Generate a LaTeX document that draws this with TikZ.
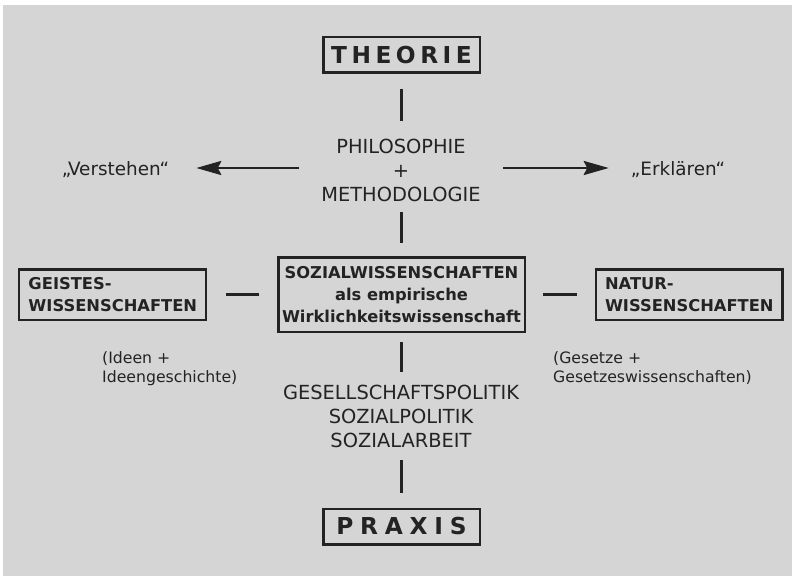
\documentclass[tikz,border=0pt]{standalone}
\usepackage{fontspec}
\setmainfont{DejaVu Sans}
\usetikzlibrary{arrows.meta}
\definecolor{bg}{HTML}{D5D5D5}
\definecolor{ink}{HTML}{232323}
\tikzset{
  box/.style={draw=ink, line width=2.5bp, inner sep=0pt, text=ink},
  titlebox/.style={box, minimum width=156.5bp, minimum height=35.5bp, font=\fontsize{23.3bp}{28bp}\selectfont\bfseries},
  sidebox/.style={box, minimum width=186.5bp, minimum height=50.5bp, text width=168bp, align=left, font=\fontsize{16.3bp}{22bp}\selectfont\bfseries},
  midtxt/.style={text=ink, inner sep=0pt, align=center, font=\fontsize{19.4bp}{24bp}\selectfont},
  quotetxt/.style={text=ink, inner sep=0pt, font=\fontsize{18.4bp}{22bp}\selectfont},
  notetxt/.style={text=ink, inner sep=0pt, align=left, font=\fontsize{15.7bp}{19bp}\selectfont},
  link/.style={draw=ink, line width=2.7bp},
  arr/.style={draw=ink, line width=2.8bp, -{Stealth[length=25bp, width=14bp, inset=3.5bp]}}
}
\begin{document}
\begin{tikzpicture}[x=1bp, y=-1bp]
\useasboundingbox (0,0) rectangle (792,576);
\fill[white] (0,0) rectangle (792,576);
\fill[bg] (3,5) rectangle (792,576);

\node[titlebox] (theorie) at (401.5,55) {T\kern4.5bp H\kern4.5bp E\kern4.5bp O\kern4.5bp R\kern4.5bp I\kern4.5bp E};
\node[midtxt] (phil) at (401,170) {PHILOSOPHIE\\+\\METHODOLOGIE};
\node[quotetxt, anchor=base] (verst) at (115.5,175.5) {„Verstehen“};
\node[quotetxt, anchor=base] (erkl) at (678,175.5) {„Erklären“};

\node[box, minimum width=246.5bp, minimum height=74.5bp, align=center, font=\fontsize{16.3bp}{22bp}\selectfont\bfseries] (soz) at (401.5,294.5) {SOZIALWISSENSCHAFTEN\\als empirische\\Wirklichkeitswissenschaft};
\node[sidebox] (geist) at (112.5,294.5) {GEISTES-\\WISSENSCHAFTEN};
\node[sidebox] (natur) at (689,294.5) {NATUR-\\WISSENSCHAFTEN};

\node[notetxt, anchor=north west] (ideen) at (102,351.1) {(Ideen +\\Ideengeschichte)};
\node[notetxt, anchor=north west] (gesetze) at (553,351.1) {(Gesetze +\\Gesetzeswissenschaften)};

\node[midtxt] (gesell) at (401,416) {GESELLSCHAFTSPOLITIK\\SOZIALPOLITIK\\SOZIALARBEIT};
\node[titlebox] (praxis) at (401.5,526.5) {P\kern6.8bp R\kern6.8bp A\kern6.8bp X\kern6.8bp I\kern6.8bp S};

\draw[link, shorten <=15bp, shorten >=17.6bp] (theorie.south) -- (theorie.south |- phil.north);
\draw[link, shorten <=10.7bp, shorten >=13bp] (phil.south -| soz.north) -- (soz.north);
\draw[link, shorten <=9bp, shorten >=12.6bp] (soz.south) -- (soz.south |- gesell.north);
\draw[link, shorten <=12.7bp, shorten >=15bp] (gesell.south -| praxis.north) -- (praxis.north);
\draw[link, shorten <=19bp, shorten >=18bp] (geist.east) -- (soz.west);
\draw[link, shorten <=17bp, shorten >=18bp] (soz.east) -- (natur.west);

\draw[arr, shorten <=22bp, shorten >=27bp] ([yshift=2bp]phil.west) -- ([yshift=2bp]phil.west -| verst.east);
\draw[arr, shorten <=22bp, shorten >=22bp] ([yshift=2bp]phil.east) -- ([yshift=2bp]phil.east -| erkl.west);
\end{tikzpicture}
\end{document}
